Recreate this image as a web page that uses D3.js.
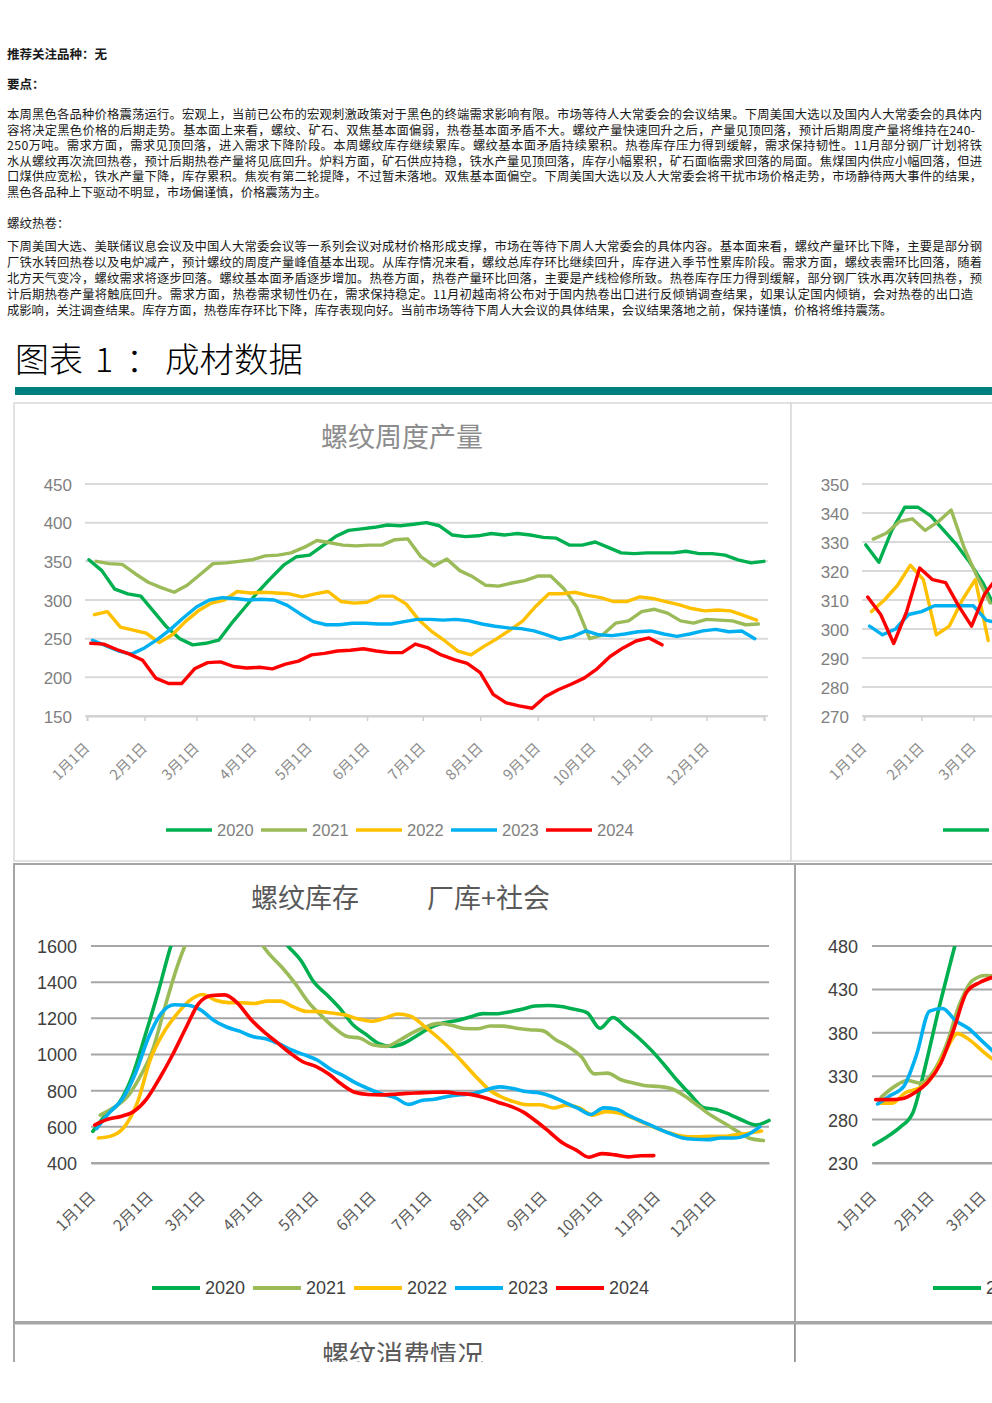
<!DOCTYPE html>
<html><head><meta charset="utf-8">
<script src="https://cdn.jsdelivr.net/npm/d3@7"></script>
<style>
html,body{margin:0;padding:0;background:#fff;}
svg{display:block;}
</style></head><body>
<svg id="page" width="992" height="1403"></svg>
<script>
// ---------------- DATA ----------------
const years = ["2020","2021","2022","2023","2024"];
// day-of-year of the first weekly observation of each year
const firstDay = [1,5,4,3,2];
const monthLabels = ["1月1日","2月1日","3月1日","4月1日","5月1日","6月1日","7月1日","8月1日","9月1日","10月1日","11月1日","12月1日"];
const monthStartDays = [0,31,59,90,120,151,181,212,243,273,304,334];

// 螺纹周度产量 (weekly)
const rebarOut2020 = [352,338,314,308,305,285,265,250,242,244,248,270,290,310,328,345,356,358,370,382,390,392,394,397,396,398,400,396,384,382,383,386,384,386,384,381,380,371,371,375,368,361,360,361,361,361,363,360,360,358,352,348,350];
const rebarOut2021 = [350,347,346,334,323,316,310,319,333,347,348,350,352,357,358,361,368,377,374,371,370,371,371,378,379,356,344,353,338,330,319,318,322,325,331,331,315,291,250,255,270,273,285,288,283,273,270,275,274,273,268,269];
const rebarOut2022 = [281,285,265,261,257,245,255,272,286,296,300,311,309,310,309,308,304,308,311,298,296,297,305,305,295,274,259,247,234,229,240,250,261,273,292,308,308,310,306,303,298,298,304,302,298,294,289,286,287,286,280,274];
const rebarOut2023 = [248,241,234,230,238,249,262,277,291,300,303,302,300,301,300,293,282,272,268,268,270,270,269,269,272,275,275,274,275,273,269,266,264,263,260,255,249,253,260,255,254,256,259,260,256,253,256,260,262,259,260,250];
const rebarOut2024 = [244,243,236,230,222,199,192,192,211,219,220,214,212,213,211,217,221,229,231,234,235,237,234,232,232,243,238,229,223,218,206,178,167,163,160,175,184,191,199,211,227,238,247,251,242];

// 热卷周度产量 (only the visible start of the year)
const hrcOut2020 = [329,323,334,342,342,339,334,329,323,316,307];
const hrcOut2021 = [331,333,337,338,334,337,341,328,318,309];
const hrcOut2022 = [306,310,315,322,317,298,301,310,317,296];
const hrcOut2023 = [301,298,300,305,306,308,308,308,308,303,302];
const hrcOut2024 = [311,305,295,306,321,317,316,308,301,312,318];

// 螺纹库存 厂库+社会 (values above 1600 are off the chart, estimated)
const rebarStock2020 = [575,665,730,875,1100,1340,1600,1800,1950,2050,2080,2030,1920,1780,1690,1600,1520,1400,1330,1255,1165,1112,1060,1045,1065,1108,1150,1175,1188,1207,1226,1225,1235,1250,1268,1271,1265,1250,1232,1145,1205,1150,1090,1020,938,852,775,705,695,668,635,610,635];
const rebarStock2021 = [665,705,760,870,1020,1270,1504,1680,1780,1820,1800,1740,1650,1555,1480,1392,1290,1215,1147,1099,1090,1052,1045,1078,1120,1152,1172,1162,1144,1142,1158,1157,1145,1137,1132,1083,1043,987,893,897,862,842,827,823,809,768,715,662,620,575,535,524];
const rebarStock2022 = [538,550,600,735,975,1120,1220,1298,1332,1300,1287,1286,1282,1295,1295,1263,1238,1237,1229,1218,1196,1184,1200,1224,1212,1160,1101,1035,958,880,808,765,738,722,722,704,720,705,665,684,676,651,620,590,565,548,545,547,547,556,565,577];
const rebarStock2023 = [590,680,755,897,1095,1230,1275,1272,1247,1190,1152,1129,1099,1087,1060,1025,998,968,918,882,840,808,780,760,724,746,753,768,777,784,805,821,812,795,788,768,735,703,668,705,697,660,628,596,566,540,531,529,538,538,554,600];
const rebarStock2024 = [610,642,657,685,755,870,1000,1145,1282,1326,1330,1283,1195,1126,1068,1010,960,934,892,835,791,779,777,780,785,788,791,792,784,778,761,736,713,680,628,570,510,473,432,452,445,434,440,441];

// 热卷库存 (only the visible start of the year)
const hrcStock2020 = [251,260,271,288,344,408,467,525];
const hrcStock2021 = [306,318,325,322,335,366,412,440,446,445];
const hrcStock2022 = [299,299,311,316,328,356,379,371,358,346];
const hrcStock2023 = [298,308,318,355,405,408,394,385,371,357];
const hrcStock2024 = [303,303,304,311,323,345,384,427,438,444];

const outTicks = [150,200,250,300,350,400,450];
const hrcOutTicks = [270,280,290,300,310,320,330,340,350];
const stockTicks = [400,600,800,1000,1200,1400,1600];
const hrcStockTicks = [230,280,330,380,430,480];

// text content
const recommendText = "推荐关注品种：无";
const keyPointsText = "要点：";
const para1 = [
"本周黑色各品种价格震荡运行。宏观上，当前已公布的宏观刺激政策对于黑色的终端需求影响有限。市场等待人大常委会的会议结果。下周美国大选以及国内人大常委会的具体内",
"容将决定黑色价格的后期走势。基本面上来看，螺纹、矿石、双焦基本面偏弱，热卷基本面矛盾不大。螺纹产量快速回升之后，产量见顶回落，预计后期周度产量将维持在240-",
"250万吨。需求方面，需求见顶回落，进入需求下降阶段。本周螺纹库存继续累库。螺纹基本面矛盾持续累积。热卷库存压力得到缓解，需求保持韧性。11月部分钢厂计划将铁",
"水从螺纹再次流回热卷，预计后期热卷产量将见底回升。炉料方面，矿石供应持稳，铁水产量见顶回落，库存小幅累积，矿石面临需求回落的局面。焦煤国内供应小幅回落，但进",
"口煤供应宽松，铁水产量下降，库存累积。焦炭有第二轮提降，不过暂未落地。双焦基本面偏空。下周美国大选以及人大常委会将干扰市场价格走势，市场静待两大事件的结果，",
"黑色各品种上下驱动不明显，市场偏谨慎，价格震荡为主。"
];
const sectionText = "螺纹热卷：";
const para2 = [
"下周美国大选、美联储议息会议及中国人大常委会议等一系列会议对成材价格形成支撑，市场在等待下周人大常委会的具体内容。基本面来看，螺纹产量环比下降，主要是部分钢",
"厂铁水转回热卷以及电炉减产，预计螺纹的周度产量峰值基本出现。从库存情况来看，螺纹总库存环比继续回升，库存进入季节性累库阶段。需求方面，螺纹表需环比回落，随着",
"北方天气变冷，螺纹需求将逐步回落。螺纹基本面矛盾逐步增加。热卷方面，热卷产量环比回落，主要是产线检修所致。热卷库存压力得到缓解，部分钢厂铁水再次转回热卷，预",
"计后期热卷产量将触底回升。需求方面，热卷需求韧性仍在，需求保持稳定。11月初越南将公布对于国内热卷出口进行反倾销调查结果，如果认定国内倾销，会对热卷的出口造",
"成影响，关注调查结果。库存方面，热卷库存环比下降，库存表现向好。当前市场等待下周人大会议的具体结果，会议结果落地之前，保持谨慎，价格将维持震荡。"
];
const headingParts = ["图表","1","：","成材数据"];

// ---------------- STYLE / LAYOUT ----------------
const seriesColors = ["#00b050","#9bbb59","#ffc000","#00b0f0","#ff0000"];
const cjk = "'Noto Sans CJK SC','Noto Sans',sans-serif";
const latin = "'Liberation Sans',Arial,sans-serif";
const para1Len = [975,968,975,975,975,null];
const para2Len = [975,975,975,966,null];

const svg = d3.select("#page");
const defs = svg.append("defs");
defs.append("clipPath").attr("id","pageClip").append("rect").attr("width",992).attr("height",1362);
const root = svg.append("g").attr("clip-path","url(#pageClip)");

// ---------------- TEXT ----------------
const T = root.append("g").attr("font-family",cjk).attr("fill","#1a1a1a");
T.append("text").attr("x",7).attr("y",58.7).attr("font-size",12.5).attr("font-weight","bold").text(recommendText);
T.append("text").attr("x",7).attr("y",88.7).attr("font-size",12.5).attr("font-weight","bold").text(keyPointsText);
para1.forEach((s,i)=>{
  const t = T.append("text").attr("x",7).attr("y",119+15.5*i).attr("font-size",12.3).text(s);
  if (para1Len[i]) t.attr("textLength",para1Len[i]).attr("lengthAdjust","spacing");
});
T.append("text").attr("x",7).attr("y",227.7).attr("font-size",12.5).text(sectionText);
para2.forEach((s,i)=>{
  const t = T.append("text").attr("x",7).attr("y",251.4+16*i).attr("font-size",12.3).text(s);
  if (para2Len[i]) t.attr("textLength",para2Len[i]).attr("lengthAdjust","spacing");
});

// heading
const H = root.append("g").attr("font-family",cjk).attr("fill","#000").attr("font-size",34).attr("font-weight",300);
const headX = [15,95,126,165];
const headLen = [68,null,null,138];
headingParts.forEach((s,i)=>{
  const t = H.append("text").attr("x",headX[i]).attr("y",372).text(s);
  if (headLen[i]) t.attr("textLength",headLen[i]).attr("lengthAdjust","spacingAndGlyphs");
});
root.append("rect").attr("x",15).attr("y",387).attr("width",977).attr("height",8).attr("fill","#007f7f");

// ---------------- CHARTS ----------------
const base = new Date(2021,0,1);
function drawChart(c){
  const g = root.append("g").attr("transform",`translate(${c.left},${c.top})`);
  g.append("rect").attr("x",0).attr("y",0).attr("width",c.w).attr("height",c.h)
    .attr("fill","#fff").attr("stroke",c.borderColor).attr("stroke-width",c.borderWidth);
  c.titles.forEach(t=>{
    g.append("text").attr("x",t.x).attr("y",c.titleY).attr("text-anchor",t.anchor)
      .attr("font-family",cjk).attr("font-size",c.titleSize).attr("fill",c.titleColor).text(t.text);
  });
  const x = d3.scaleTime().domain([base, d3.timeDay.offset(base,365)]).range(c.xRange);
  const y = d3.scaleLinear().domain(c.yDomain).range(c.yRange);
  // grid
  g.append("g").selectAll("line").data(c.yTicks).join("line")
    .attr("x1",c.gridX[0]).attr("x2",c.gridX[1])
    .attr("y1",d=>y(d)).attr("y2",d=>y(d))
    .attr("stroke",c.gridColor).attr("stroke-width",c.gridWidth);
  // y labels
  const yg = g.append("g").attr("transform",`translate(${c.yLabelRight},0)`)
    .call(d3.axisLeft(y).tickValues(c.yTicks).tickSize(0).tickPadding(0).tickFormat(d3.format("d")));
  yg.select(".domain").remove();
  yg.selectAll("text").attr("x",0).attr("dy","0.36em")
    .attr("font-family",latin).attr("font-size",c.yFont).attr("fill",c.yColor);
  // x axis
  const tickDates = monthStartDays.map(d=>d3.timeDay.offset(base,d));
  if (c.endTick) tickDates.push(d3.timeDay.offset(base,365));
  const xg = g.append("g").attr("transform",`translate(0,${c.yRange[0]})`)
    .call(d3.axisBottom(x).tickValues(tickDates).tickSizeOuter(0).tickSize(c.tickLen)
      .tickFormat((d,i)=>monthLabels[i] || ""));
  xg.select(".domain").attr("stroke",c.axisColor).attr("stroke-width",c.gridWidth);
  xg.selectAll(".tick line").attr("stroke",c.axisColor).attr("stroke-width",1.5);
  xg.selectAll("text").attr("x",0).attr("y",0).attr("dy",0)
    .attr("text-anchor","end")
    .attr("transform",`translate(${c.xLabelDx},${c.xLabelDy}) rotate(-45)`)
    .attr("font-family",cjk).attr("font-size",c.xFont).attr("fill",c.xColor);
  // lines
  const clipId = c.id+"Clip";
  g.append("clipPath").attr("id",clipId).append("rect")
    .attr("x",c.xRange[0]-4).attr("y",c.yRange[1])
    .attr("width",c.xRange[1]-c.xRange[0]+8).attr("height",c.yRange[0]-c.yRange[1]+8);
  const line = d3.line().x(d=>x(d.date)).y(d=>y(d.v)).curve(c.curve);
  c.series.forEach((arr,k)=>{
    const pts = arr.map((v,i)=>({date:d3.timeDay.offset(base, firstDay[k]+7*i), v}));
    g.append("path").attr("clip-path",`url(#${clipId})`).attr("d",line(pts))
      .attr("fill","none").attr("stroke",seriesColors[k]).attr("stroke-width",c.lineWidth)
      .attr("stroke-linejoin","round").attr("stroke-linecap","round");
  });
  // legend
  years.forEach((yr,k)=>{
    const lx = c.legendX0 + k*c.legendStep;
    g.append("line").attr("x1",lx).attr("x2",lx+c.legendSample)
      .attr("y1",c.legendY).attr("y2",c.legendY)
      .attr("stroke",seriesColors[k]).attr("stroke-width",c.legendLineWidth);
    g.append("text").attr("x",lx+c.legendTextDx).attr("y",c.legendY).attr("dy","0.36em")
      .attr("font-family",latin).attr("font-size",c.legendFont).attr("fill",c.legendColor).text(yr);
  });
}

const row1Common = {
  w:777, h:458, borderColor:"#d9d9d9", borderWidth:1.5,
  titleY:44, titleSize:27, titleColor:"#8c8c8c",
  xRange:[73,750], yRange:[313,81], gridX:[71,754], gridColor:"#d9d9d9", gridWidth:2,
  axisColor:"#d0d0d0", tickLen:5, endTick:true,
  yLabelRight:58, yFont:17, yColor:"#7f7f7f",
  xLabelDx:3, xLabelDy:33, xFont:14.5, xColor:"#8c8c8c",
  curve:d3.curveLinear, lineWidth:3.4,
  legendY:427, legendX0:152, legendStep:95, legendSample:46, legendTextDx:51,
  legendLineWidth:3.6, legendFont:16.5, legendColor:"#7f7f7f"
};
drawChart(Object.assign({}, row1Common, {
  id:"c1", left:14, top:403,
  titles:[{x:388, anchor:"middle", text:"螺纹周度产量"}],
  yDomain:[150,450], yTicks:outTicks,
  series:[rebarOut2020,rebarOut2021,rebarOut2022,rebarOut2023,rebarOut2024]
}));
drawChart(Object.assign({}, row1Common, {
  id:"c2", left:791, top:403,
  titles:[{x:388, anchor:"middle", text:"热卷周度产量"}],
  yDomain:[270,350], yTicks:hrcOutTicks,
  series:[hrcOut2020,hrcOut2021,hrcOut2022,hrcOut2023,hrcOut2024]
}));

const row2Common = {
  w:781, h:458, borderColor:"#a6a6a6", borderWidth:2,
  titleY:44, titleSize:27, titleColor:"#595959",
  xRange:[77,755], yRange:[299,82], gridX:[77,755], gridColor:"#a6a6a6", gridWidth:2,
  axisColor:"#a6a6a6", tickLen:0, endTick:false,
  yLabelRight:63, yFont:18, yColor:"#404040",
  xLabelDx:5, xLabelDy:35, xFont:15.5, xColor:"#595959",
  curve:d3.curveMonotoneX, lineWidth:3.6,
  legendY:424, legendX0:138, legendStep:101, legendSample:48, legendTextDx:53,
  legendLineWidth:4, legendFont:18, legendColor:"#404040"
};
drawChart(Object.assign({}, row2Common, {
  id:"c3", left:14, top:864,
  titles:[{x:291, anchor:"middle", text:"螺纹库存"},{x:413, anchor:"start", text:"厂库+社会"}],
  yDomain:[400,1600], yTicks:stockTicks,
  series:[rebarStock2020,rebarStock2021,rebarStock2022,rebarStock2023,rebarStock2024]
}));
drawChart(Object.assign({}, row2Common, {
  id:"c4", left:795, top:864,
  titles:[{x:390, anchor:"middle", text:"热卷库存"}],
  yDomain:[230,480], yTicks:hrcStockTicks,
  series:[hrcStock2020,hrcStock2021,hrcStock2022,hrcStock2023,hrcStock2024]
}));

// third row (cut off by the page bottom)
root.append("rect").attr("x",14).attr("y",1323).attr("width",781).attr("height",200)
  .attr("fill","#fff").attr("stroke","#8c8c8c").attr("stroke-width",1.5);
root.append("rect").attr("x",795).attr("y",1323).attr("width",400).attr("height",200)
  .attr("fill","#fff").attr("stroke","#8c8c8c").attr("stroke-width",1.5);
root.append("line").attr("x1",14).attr("x2",992).attr("y1",1323).attr("y2",1323)
  .attr("stroke","#a6a6a6").attr("stroke-width",3);
root.append("text").attr("x",403).attr("y",1365).attr("text-anchor","middle")
  .attr("font-family",cjk).attr("font-size",27).attr("fill","#595959").text("螺纹消费情况");
</script>
</body></html>
